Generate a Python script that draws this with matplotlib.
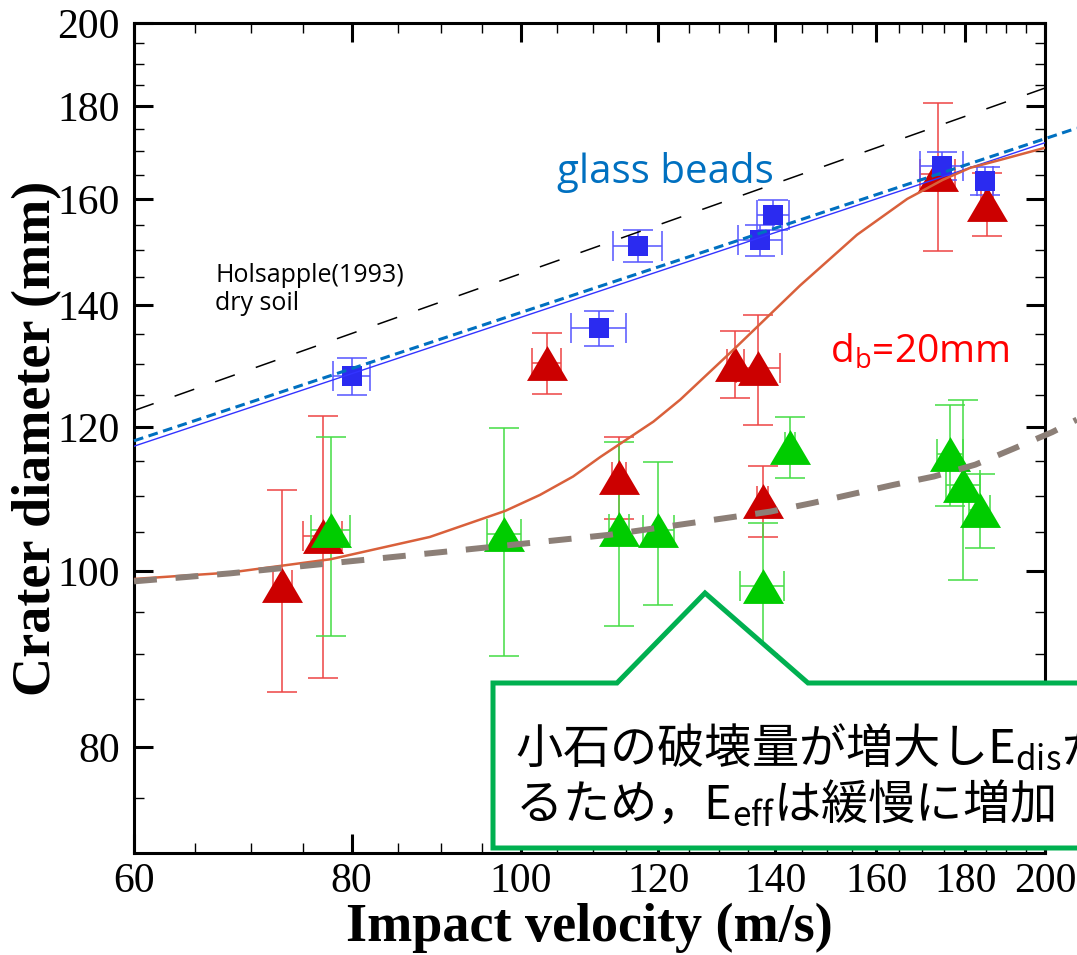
import matplotlib
matplotlib.use("Agg")
import matplotlib.pyplot as plt
from matplotlib.patches import Polygon
from matplotlib.ticker import FixedLocator, FuncFormatter, NullFormatter

# impact velocity (m/s), crater diameter (mm) and error bars
red_v = [73.0, 77.0, 103.5, 113.9, 132.8, 136.9, 137.7, 173.6, 185.3]
red_d = [98.3, 104.5, 130.1, 112.6, 130.0, 129.3, 109.3, 165.3, 159.1]
red_dv = [0.9, 2.0, 2.0, 1.0, 1.5, 4.0, 1.0, 4.0, 1.5]
red_dd = [12.5, 17.2, 5.0, 5.8, 5.5, 9.0, 4.9, 15.5, 6.3]

green_v = [77.8, 97.9, 113.9, 120.0, 137.7, 142.8, 176.4, 179.5, 183.5]
green_d = [105.3, 104.8, 105.5, 105.3, 98.1, 117.0, 116.0, 111.5, 108.0]
green_dv = [2.0, 2.2, 1.5, 2.5, 4.0, 1.0, 3.0, 4.0, 2.5]
green_dd = [13.2, 15.0, 12.2, 9.5, 8.1, 4.5, 7.4, 12.6, 5.0]

blue_v = [80.0, 110.9, 116.8, 137.3, 139.6, 174.5, 184.8]
blue_d = [128.0, 136.0, 150.9, 152.0, 156.9, 166.9, 163.8]
blue_dv = [2.0, 4.0, 3.8, 4.0, 3.0, 5.0, 2.0]
blue_dd = [3.0, 3.0, 3.0, 3.0, 3.0, 3.0, 3.0]

# fitted / reference curves
hols_v = [60, 200]
hols_d = [122.5, 184.2]
beads_v = [60, 200]
beads_d = [117.1, 171.9]
beads2_v = [60, 208.6]
beads2_d = [117.9, 175.1]
d20_v = [60, 68.1, 77.8, 88.7, 98.0, 102.6, 107.2, 111.1, 119.2, 123.5, 132.5,
         144.7, 156.0, 166.7, 174.7, 181.1, 188.5, 200]
d20_d = [99.0, 99.8, 101.5, 104.4, 107.9, 110.1, 112.7, 115.5, 120.8, 124.2, 132.3,
         143.5, 153.0, 160.1, 164.0, 166.5, 168.2, 170.8]
grey_v = [60, 68.1, 89.9, 112.6, 139.1, 147.2, 163.6, 172.7, 182.4, 191.7, 201.9, 208.6]
grey_d = [98.7, 99.7, 102.4, 104.7, 107.8, 109.0, 111.5, 112.7, 114.4, 116.7, 119.2, 121.1]

x_major = [60, 80, 100, 120, 140, 160, 180, 200]
x_minor = [v for v in range(65, 200, 5) if v % 20 != 0]
y_major = [80, 100, 120, 140, 160, 180, 200]
y_minor = [v for v in range(75, 200, 5) if v % 20 != 0]

plt.rcParams['lines.scale_dashes'] = False
serif = 'Liberation Serif'

W, H = 1077, 955


def px(x, y):
    # pixel position -> figure fraction
    return x / W, 1 - y / H


fig = plt.figure(figsize=(W / 100, H / 100), dpi=100)
ax = fig.add_axes([134 / W, 1 - 853 / H, (1045 - 134) / W, (853 - 23) / H])
ax.set_xscale('log')
ax.set_yscale('log')

tri = [(0, 0.85), (-1, -0.85), (1, -0.85)]
ebar = dict(fmt='none', elinewidth=1.1, capsize=11, capthick=1.1, zorder=2)

ax.errorbar(red_v, red_d, xerr=red_dv, yerr=red_dd, ecolor='#ee4444', **ebar)
ax.plot(red_v, red_d, ls='none', marker=tri, ms=29.5, color='#cc0000', mew=0, zorder=3)
ax.errorbar(green_v, green_d, xerr=green_dv, yerr=green_dd, ecolor='#44dd44', **ebar)
ax.plot(green_v, green_d, ls='none', marker=tri, ms=29.5, color='#00cc00', mew=0, zorder=3)
ax.errorbar(blue_v, blue_d, xerr=blue_dv, yerr=blue_dd, ecolor='#5555ff', **ebar)
ax.plot(blue_v, blue_d, ls='none', marker='s', ms=15, color='#2b2bf0', mew=0, zorder=3)

ax.plot(hols_v, hols_d, color='black', lw=1.1, ls=(0, (15, 16)), zorder=4)
ax.plot(beads_v, beads_d, color='#3333ff', lw=1.0, zorder=4)
ax.plot(beads2_v, beads2_d, color='#0070c0', lw=2.2, ls=(0, (7, 4)), zorder=4, clip_on=False)
ax.plot(d20_v, d20_d, color='#d9603b', lw=1.8, zorder=4)
ax.plot(grey_v, grey_d, color='#8c7f77', lw=4.3, ls=(0, (16.5, 13.5)), zorder=4, clip_on=False)

ax.set_xlim(60, 200)
ax.set_ylim(70, 200)

fmt = FuncFormatter(lambda v, p: f"{v:g}")
ax.xaxis.set_major_locator(FixedLocator(x_major))
ax.xaxis.set_minor_locator(FixedLocator(x_minor))
ax.yaxis.set_major_locator(FixedLocator(y_major))
ax.yaxis.set_minor_locator(FixedLocator(y_minor))
ax.xaxis.set_major_formatter(fmt)
ax.yaxis.set_major_formatter(fmt)
ax.xaxis.set_minor_formatter(NullFormatter())
ax.yaxis.set_minor_formatter(NullFormatter())

ax.tick_params(which='both', direction='in', top=True, right=True)
ax.tick_params(which='major', length=14, width=2.2, labelsize=30)
ax.tick_params(which='minor', length=7, width=1.0)
ax.tick_params(axis='x', which='major', pad=7)
ax.tick_params(axis='y', which='major', pad=10)
for lab in ax.get_xticklabels() + ax.get_yticklabels():
    lab.set_family(serif)
for s in ax.spines.values():
    s.set_linewidth(2.2)

ax.set_xlabel('Impact velocity (m/s)', fontsize=39, fontweight='bold', family=serif, labelpad=1)
ax.set_ylabel('Crater diameter (mm)', fontsize=39, fontweight='bold', family=serif, labelpad=-3)

# annotations
fig.text(*px(215, 282), 'Holsapple(1993)', fontsize=18, family='Open Sans', va='baseline')
fig.text(*px(215, 310), 'dry soil', fontsize=18, family='Open Sans', va='baseline')
fig.text(*px(557, 183), 'glass beads', fontsize=29, color='#0070c0', family='Open Sans', va='baseline')
fig.text(*px(830, 363), r'd$_\mathregular{b}$=20mm', fontsize=28, color='red',
         family='Open Sans', va='baseline')

# green callout box
box = [px(493, 683), px(617, 683), px(705, 593), px(808, 683), px(1100, 683),
       px(1100, 848), px(493, 848)]
fig.add_artist(Polygon(box, closed=True, facecolor='white', edgecolor='#00b050',
                       lw=3.6, joinstyle='miter', zorder=10, transform=fig.transFigure))
jp = 'Noto Sans CJK JP'
fig.text(*px(515, 762), '小石の破壊量が増大しE$_\\mathregular{dis}$が', fontsize=34,
         family=jp, va='baseline', zorder=11)
fig.text(*px(515, 818), 'るため，E$_\\mathregular{eff}$は緩慢に増加', fontsize=34,
         family=jp, va='baseline', zorder=11)

fig.savefig('out.png', dpi=100)
